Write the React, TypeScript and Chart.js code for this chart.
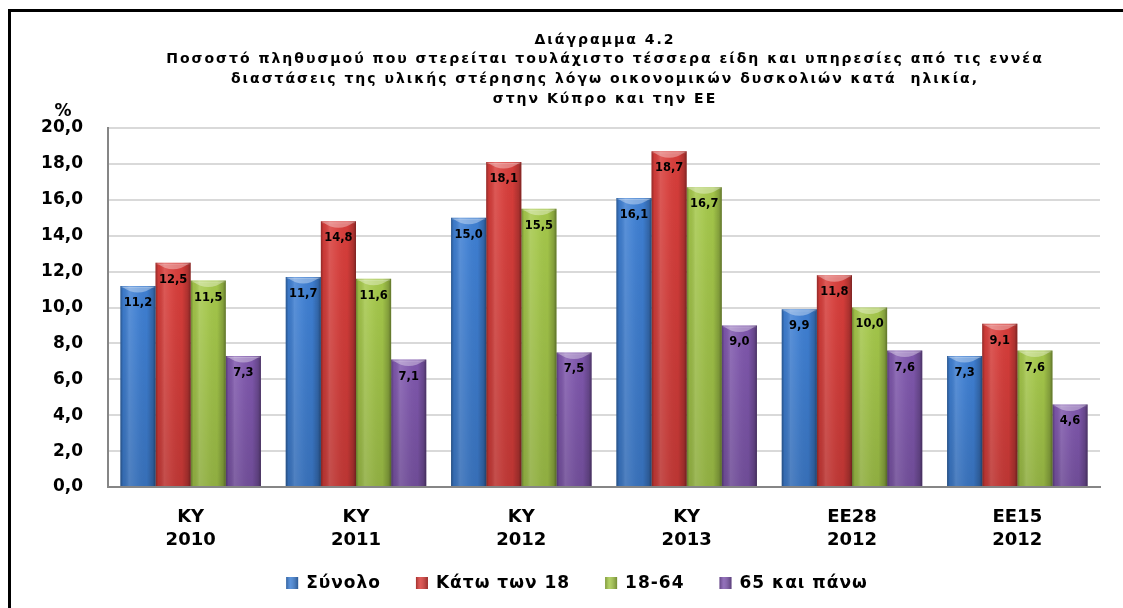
import React, { useEffect, useRef } from "react";
import { Chart, registerables } from "chart.js";

Chart.register(...registerables);

const categories: string[][] = [
  ["ΚΥ", "2010"],
  ["ΚΥ", "2011"],
  ["ΚΥ", "2012"],
  ["ΚΥ", "2013"],
  ["ΕΕ28", "2012"],
  ["ΕΕ15", "2012"],
];
const seriesNames = ["Σύνολο", "Κάτω των 18", "18-64", "65 και πάνω"];
const totalValues = [11.2, 11.7, 15.0, 16.1, 9.9, 7.3];
const under18Values = [12.5, 14.8, 18.1, 18.7, 11.8, 9.1];
const age18to64Values = [11.5, 11.6, 15.5, 16.7, 10.0, 7.6];
const over65Values = [7.3, 7.1, 7.5, 9.0, 7.6, 4.6];
const titleLines = [
  "Διάγραμμα 4.2",
  "Ποσοστό πληθυσμού που στερείται τουλάχιστο τέσσερα είδη και υπηρεσίες από τις εννέα",
  "διαστάσεις της υλικής στέρησης λόγω οικονομικών δυσκολιών κατά  ηλικία,",
  "στην Κύπρο και την ΕΕ",
];
const yUnit = "%";
const yMin = 0;
const yMax = 20;
const yStep = 2;

const seriesColors = ["#3f80d4", "#d93e3b", "#a6c94b", "#8058ae"];
const FONT = "'DejaVu Sans', Verdana, sans-serif";

const fmt = (v: number) => Number(v).toFixed(1).replace(".", ",");

const decorPlugin = {
  id: "decor",
  afterDatasetsDraw(chart: any) {
    const ctx: CanvasRenderingContext2D = chart.ctx;
    chart.data.datasets.forEach((ds: any, di: number) => {
      const meta = chart.getDatasetMeta(di);
      meta.data.forEach((el: any, i: number) => {
        const { x, y, base, width } = el.getProps(["x", "y", "base", "width"], true);
        const left = x - width / 2;
        const h = base - y;
        ctx.save();
        const g = ctx.createLinearGradient(left, 0, left + width, 0);
        g.addColorStop(0, "rgba(0,0,0,0.32)");
        g.addColorStop(0.08, "rgba(0,0,0,0.05)");
        g.addColorStop(0.25, "rgba(255,255,255,0.14)");
        g.addColorStop(0.45, "rgba(255,255,255,0.06)");
        g.addColorStop(0.75, "rgba(0,0,0,0.02)");
        g.addColorStop(0.92, "rgba(0,0,0,0.2)");
        g.addColorStop(1, "rgba(0,0,0,0.42)");
        ctx.fillStyle = g;
        ctx.fillRect(left, y, width, h);
        const gv = ctx.createLinearGradient(0, y, 0, base);
        gv.addColorStop(0, "rgba(0,0,0,0)");
        gv.addColorStop(1, "rgba(0,0,0,0.12)");
        ctx.fillStyle = gv;
        ctx.fillRect(left, y, width, h);
        ctx.beginPath();
        ctx.moveTo(left + 2, y + 1);
        ctx.lineTo(left + width - 2, y + 1);
        ctx.quadraticCurveTo(left + width / 2, y + 12, left + 2, y + 1);
        ctx.closePath();
        ctx.fillStyle = "rgba(255,255,255,0.35)";
        ctx.fill();
        ctx.fillStyle = "rgba(255,255,255,0.18)";
        ctx.fillRect(left + 1, y, width - 2, 2);
        ctx.fillStyle = "#000";
        ctx.font = `bold 11.5px ${FONT}`;
        ctx.textAlign = "center";
        ctx.textBaseline = "middle";
        ctx.fillText(fmt(ds.data[i]), x, y + 17);
        ctx.restore();
      });
    });
  },
  afterDraw(chart: any) {
    const ctx: any = chart.ctx;
    const area = chart.chartArea;
    ctx.save();
    ctx.fillStyle = "#000";
    ctx.textAlign = "center";
    ctx.textBaseline = "middle";
    ctx.font = `bold 14px ${FONT}`;
    ctx.letterSpacing = "2px";
    const cx = (area.left + area.right) / 2;
    titleLines.forEach((line, i) => {
      ctx.fillText(line, cx + 1, 28 + i * 19.8);
    });
    ctx.letterSpacing = "0px";
    ctx.font = `bold 17px ${FONT}`;
    ctx.fillText(yUnit, 52, 100);
    // legend
    ctx.font = `bold 17px ${FONT}`;
    ctx.letterSpacing = "1px";
    const box = 12;
    const gap = 8;
    const itemGap = 35;
    const widths = chart.data.datasets.map((d: any) => box + gap + ctx.measureText(d.label).width);
    const total = widths.reduce((a: number, b: number) => a + b, 0) + itemGap * (widths.length - 1);
    let lx = chart.width / 2 + 10 - total / 2;
    const ly = 571;
    chart.data.datasets.forEach((d: any, i: number) => {
      ctx.fillStyle = d.backgroundColor;
      ctx.fillRect(lx, ly - box / 2, box, box);
      const g = ctx.createLinearGradient(lx, 0, lx + box, 0);
      g.addColorStop(0, "rgba(0,0,0,0.25)");
      g.addColorStop(0.35, "rgba(255,255,255,0.15)");
      g.addColorStop(1, "rgba(0,0,0,0.3)");
      ctx.fillStyle = g;
      ctx.fillRect(lx, ly - box / 2, box, box);
      ctx.fillStyle = "#000";
      ctx.textAlign = "left";
      ctx.fillText(d.label, lx + box + gap, ly + 1);
      lx += widths[i] + itemGap;
    });
    ctx.restore();
  },
};

export default function App() {
  const ref = useRef<HTMLCanvasElement | null>(null);
  useEffect(() => {
    if (!ref.current) return;
    const seriesData = [totalValues, under18Values, age18to64Values, over65Values];
    const chart = new Chart(ref.current, {
      type: "bar",
      data: {
        labels: categories,
        datasets: seriesNames.map((name, i) => ({
          label: name,
          data: seriesData[i],
          backgroundColor: seriesColors[i],
          borderWidth: 0,
          categoryPercentage: 0.85,
          barPercentage: 1.0,
        })),
      },
      options: {
        responsive: false,
        animation: false,
        devicePixelRatio: 1,
        layout: { padding: { top: 116, right: 23, bottom: 0, left: 0 } },
        plugins: {
          legend: { display: false },
          title: { display: false },
          tooltip: { enabled: false },
        },
        scales: {
          x: {
            grid: { display: false, drawTicks: false },
            border: { display: true, color: "#868686", width: 2 },
            ticks: {
              color: "#000",
              font: { family: FONT, weight: "bold", size: 18, lineHeight: 1.28 },
              padding: 19,
              maxRotation: 0,
              autoSkip: false,
            },
            afterFit: (s: any) => {
              s.height = 121;
            },
          },
          y: {
            min: yMin,
            max: yMax,
            grid: { color: "#d9d9d9", lineWidth: 2, drawTicks: false },
            border: { display: true, color: "#868686", width: 2 },
            ticks: {
              stepSize: yStep,
              color: "#000",
              font: { family: FONT, weight: "bold", size: 17 },
              padding: 25,
              callback: (v: any) => fmt(v),
            },
            afterFit: (s: any) => {
              s.width = 97;
            },
          },
        },
      },
      plugins: [decorPlugin],
    });
    return () => chart.destroy();
  }, []);

  return (
    <div style={{ position: "fixed", left: 0, top: 0, width: 1123, height: 608, background: "#fff", overflow: "hidden" }}>
      <div
        style={{
          position: "absolute",
          left: 8,
          top: 9,
          width: 1115,
          height: 599,
          borderLeft: "3px solid #000",
          borderTop: "3px solid #000",
        }}
      />
      <canvas ref={ref} width={1112} height={596} style={{ position: "absolute", left: 11, top: 12 }} />
    </div>
  );
}
